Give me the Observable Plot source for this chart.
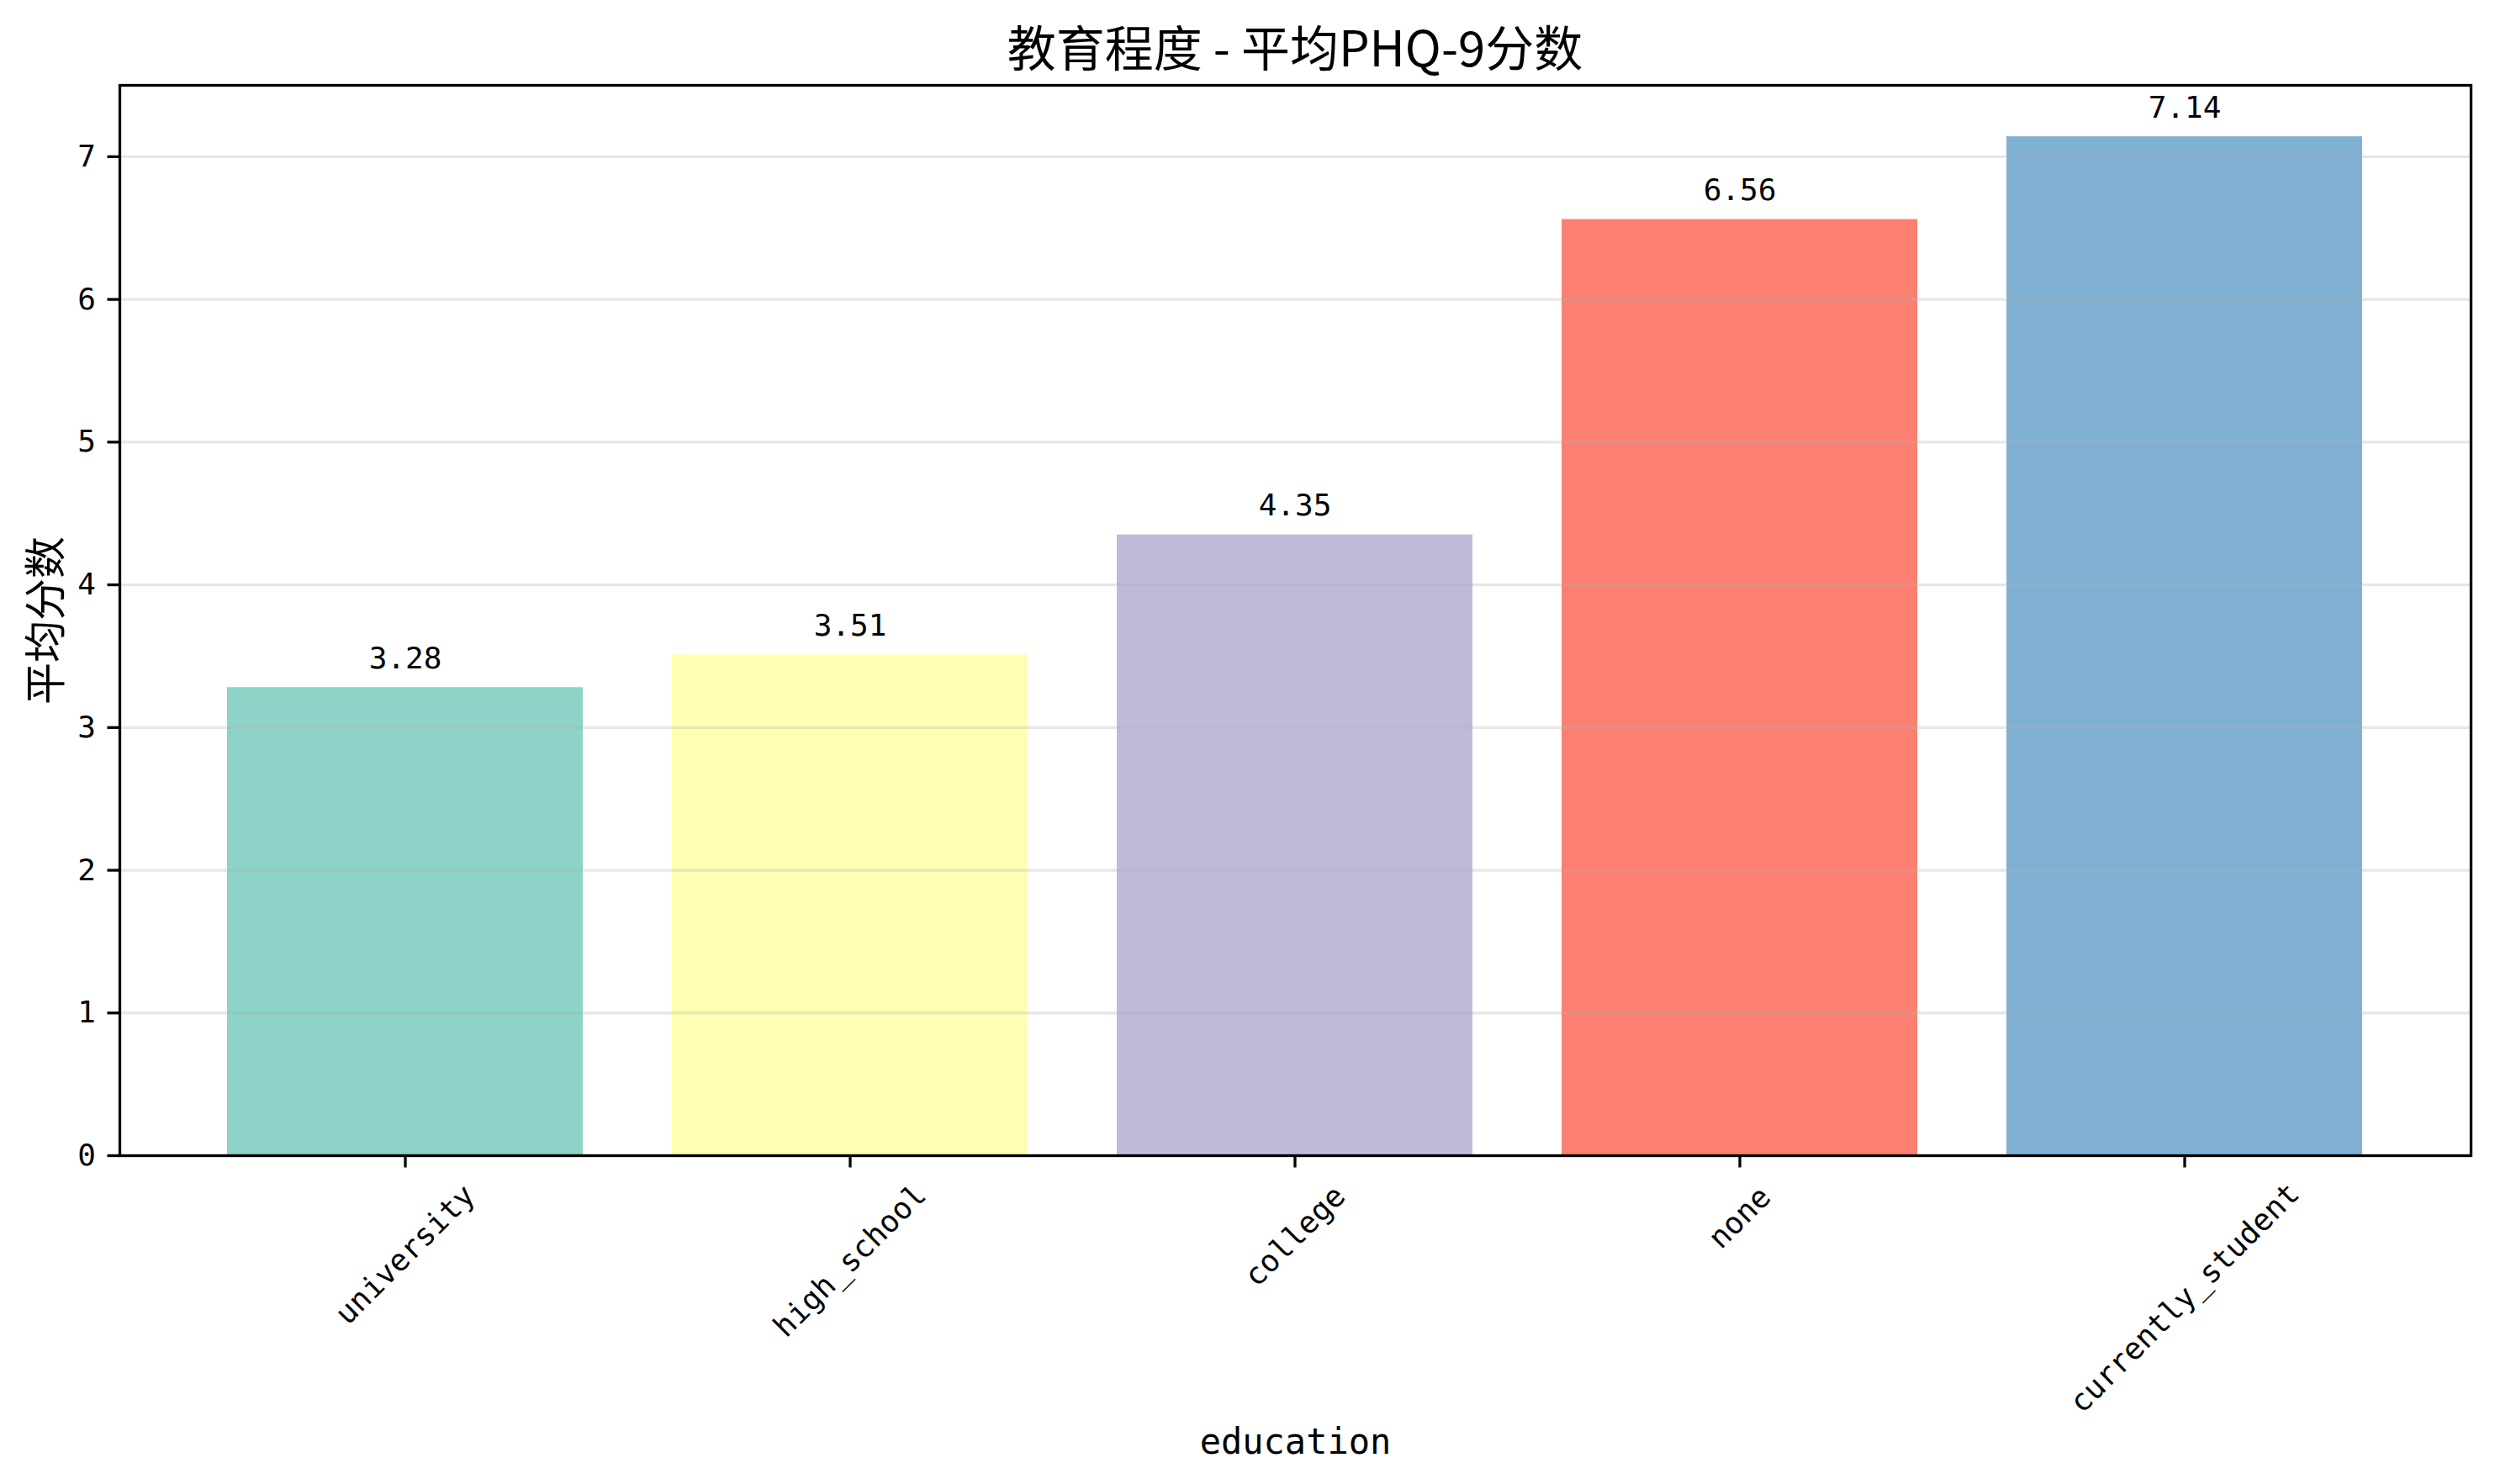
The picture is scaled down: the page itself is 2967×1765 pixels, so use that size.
<!DOCTYPE html>
<html><head><meta charset="utf-8">
<script src="https://cdn.jsdelivr.net/npm/d3@7"></script>
<script src="https://cdn.jsdelivr.net/npm/@observablehq/plot@0.6"></script>
<style>
html,body{margin:0;padding:0;background:#fff;overflow:hidden;}
#title{height:90px;box-sizing:border-box;padding-top:25px;padding-left:113px;width:2967px;text-align:center;font-family:"Noto Sans CJK SC";font-size:58px;line-height:58px;color:#000;white-space:nowrap;}
</style></head><body>
<div id="title"></div>
<div id="chart"></div>
<script>
// ---- data ----
const categories = ["university", "high_school", "college", "none", "currently_student"];
const scores = [3.28, 3.51, 4.35, 6.56, 7.14];
const barColors = ["#8dd3c7", "#ffffb3", "#bebada", "#fb8072", "#80b1d3"];
const yTicks = [0, 1, 2, 3, 4, 5, 6, 7];
const titleText = "教育程度 - 平均PHQ-9分数";
const yLabelText = "平均分数";
const xLabelText = "education";

document.getElementById("title").textContent = titleText;

const data = categories.map((c, i) => ({education: c, score: scores[i]}));

// rotated tick label centre offset (matplotlib-like: centred on tick, top of rotated bbox under tick)
const charW = 20.83, lineH = 41.7;
const labelDy = (s) => 29.6 + (s.length * charW + lineH) * Math.SQRT1_2 / 2;

const tickLabelMarks = categories.map((c) =>
  Plot.text([c], {
    x: (d) => d, frameAnchor: "bottom", text: (d) => d,
    dy: labelDy(c), rotate: -45, textAnchor: "middle", lineAnchor: "middle",
    fontSize: 36, fill: "black"
  })
);

const chart = Plot.plot({
  width: 2967,
  height: 1675,
  marginTop: 11,
  marginBottom: 391,
  marginLeft: 142,
  marginRight: 29,
  style: {fontFamily: "'DejaVu Sans Mono', 'Noto Sans CJK SC'", fontSize: "36px", color: "black", background: "white"},
  x: {type: "band", domain: categories, paddingInner: 0.2, paddingOuter: 0.24, label: null},
  y: {domain: [0, 7.5], label: null},
  color: {domain: categories, range: barColors},
  marks: [
    Plot.barY(data, {x: "education", y: "score", fill: "education"}),
    Plot.gridY(yTicks, {stroke: "#b0b0b0", strokeOpacity: 0.3, strokeWidth: 3.3}),
    Plot.text(data, {x: "education", y: "score", text: (d) => d.score.toFixed(2), lineAnchor: "bottom", dy: -23, fontSize: 36, fill: "black"}),
    Plot.axisY({ticks: yTicks, tickSize: 14.5, tickPadding: 14, strokeWidth: 3.3, fontSize: 36, label: null}),
    Plot.axisX({tickSize: 14.5, strokeWidth: 3.3, tickFormat: () => "", label: null}),
    ...tickLabelMarks,
    Plot.text([yLabelText], {frameAnchor: "left", text: (d) => d, rotate: -90, dx: -87, textAnchor: "middle", lineAnchor: "middle", fontFamily: "Noto Sans CJK SC", fontSize: 50, fill: "black"}),
    Plot.text([xLabelText], {frameAnchor: "bottom", text: (d) => d, dy: 354, textAnchor: "middle", lineAnchor: "bottom", fontSize: 42, fill: "black"}),
    Plot.frame({stroke: "black", strokeWidth: 3.3})
  ]
});
document.getElementById("chart").appendChild(chart);
</script>
</body></html>
